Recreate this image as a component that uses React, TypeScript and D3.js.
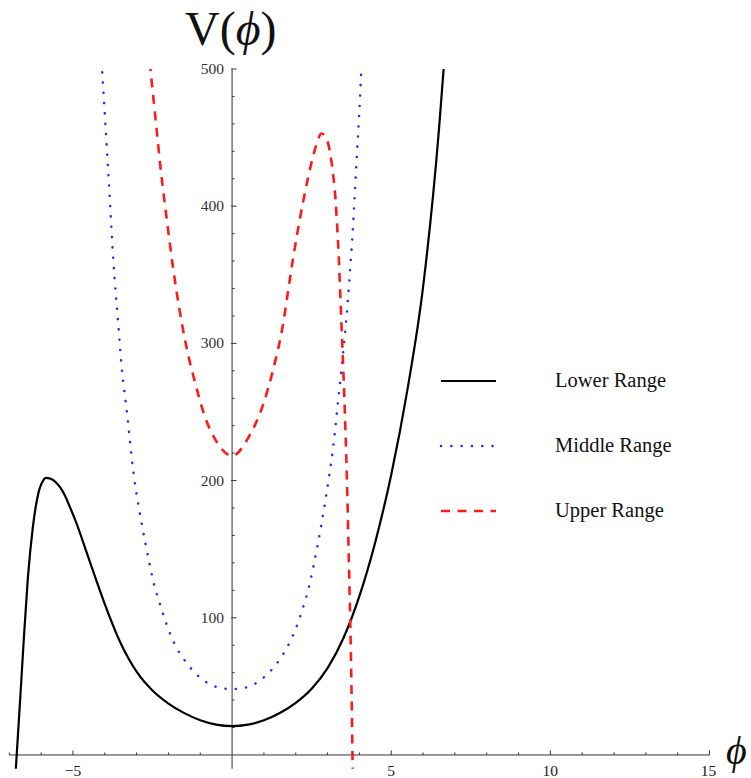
import React from "react";
import * as d3 from "d3";

type P = [number, number];

const lowerRange: P[] = [
  [-6.8, -12], [-6.66, 40], [-6.54, 86], [-6.42, 128], [-6.26, 166], [-6.05, 194],
  [-5.95, 199.5], [-5.85, 202], [-5.7, 201.3], [-5.55, 199], [-5.4, 195],
  [-5.25, 189], [-5.1, 181], [-4.9, 169.5], [-4.7, 156.5], [-4.5, 143], [-4.0, 110],
  [-3.5, 81.5], [-3.0, 60.8], [-2.5, 47], [-2.0, 37.5], [-1.5, 30.5], [-1.0, 25.3],
  [-0.5, 22.1], [0, 21], [0.5, 22.1], [1.0, 25.3], [1.5, 30.6], [2.0, 38], [2.5, 48.3],
  [3.0, 63.3], [3.5, 85.3], [4.0, 115.8], [4.5, 155.3], [5.0, 204.3], [5.5, 265],
  [6.0, 341], [6.5, 456], [6.65, 501], [6.7, 518],
];

const middleRange: P[] = [
  [-4.1, 505], [-3.98, 460], [-3.85, 409], [-3.73, 360], [-3.59, 318], [-3.47, 283],
  [-3.31, 251], [-3.1, 206], [-2.85, 170], [-2.59, 139], [-2.46, 125], [-2.28, 111],
  [-2.07, 96], [-1.83, 82], [-1.49, 69], [-1.06, 57.6], [-0.52, 49.8], [0, 48],
  [0.45, 49.3], [1.0, 56.6], [1.44, 67.8], [1.78, 80.7], [2.04, 94.5], [2.25, 109],
  [2.42, 123], [2.56, 138], [2.82, 170], [3.06, 205], [3.19, 227], [3.33, 258],
  [3.47, 289], [3.59, 318], [3.69, 348], [3.78, 378], [3.85, 407], [3.92, 437],
  [3.99, 466], [4.07, 505],
];

const upperRange: P[] = [
  [-2.59, 505], [-2.38, 458], [-2.23, 424], [-2.05, 390], [-1.86, 356], [-1.67, 327],
  [-1.44, 298], [-1.18, 273], [-0.86, 247], [-0.45, 227], [0, 218], [0.55, 233],
  [0.97, 255], [1.28, 280], [1.6, 314], [1.81, 346], [1.91, 361], [2.07, 383],
  [2.23, 403], [2.38, 420], [2.54, 436], [2.68, 447], [2.8, 453], [2.95, 450],
  [3.07, 440], [3.17, 424], [3.25, 405], [3.3, 386], [3.35, 364], [3.38, 347],
  [3.44, 312], [3.5, 277], [3.56, 238], [3.62, 190], [3.67, 140], [3.71, 100],
  [3.75, 50], [3.79, -12],
];

const xMajorTicks = [-5, 5, 10, 15];
const xMinorTicks = d3.range(-7, 16, 1).filter((v) => v !== 0 && v % 5 !== 0);
const yMajorTicks = [100, 200, 300, 400, 500];
const yMinorTicks = d3.range(20, 500, 20).filter((v) => v % 100 !== 0);

const legendItems = [
  { label: "Lower Range", key: "lower" },
  { label: "Middle Range", key: "middle" },
  { label: "Upper Range", key: "upper" },
];

const styles: Record<string, { stroke: string; width: number; dash?: string; cap?: string }> = {
  lower: { stroke: "#000", width: 2.2 },
  middle: { stroke: "#2626ff", width: 2.5, dash: "0.1 10.2", cap: "round" },
  upper: { stroke: "#ff1a1a", width: 2.6, dash: "9 7.5" },
};

export default function App() {
  const W = 751, H = 778;
  const x = d3.scaleLinear().domain([-7, 15]).range([9.3, 709.5]);
  const y = d3.scaleLinear().domain([-10, 500]).range([768.7, 69]);
  const line = d3
    .line<P>()
    .x((d) => x(d[0]))
    .y((d) => y(d[1]))
    .curve(d3.curveMonotoneX);
  const font = "'Liberation Serif', 'Times New Roman', serif";
  const series: [string, P[]][] = [
    ["lower", lowerRange],
    ["middle", middleRange],
    ["upper", upperRange],
  ];
  const x0 = x(0), y0 = y(0);
  return (
    <svg width={W} height={H} style={{ position: "absolute", left: 0, top: 0, background: "#fff" }}>
      <defs>
        <clipPath id="plot">
          <rect x={x(-7)} y={y(500)} width={x(15) - x(-7)} height={y(-10) - y(500)} />
        </clipPath>
      </defs>
      {/* axes */}
      <line x1={x(-7)} x2={x(15)} y1={y0} y2={y0} stroke="#333" strokeWidth={1} />
      <line x1={x0} x2={x0} y1={y(500)} y2={y(-10)} stroke="#333" strokeWidth={1} />
      {xMinorTicks.map((t) => (
        <line key={"xm" + t} x1={x(t)} x2={x(t)} y1={y0} y2={y0 - 2.5} stroke="#333" />
      ))}
      {xMajorTicks.map((t) => (
        <line key={"xM" + t} x1={x(t)} x2={x(t)} y1={y0} y2={y0 - 4.5} stroke="#333" />
      ))}
      {yMinorTicks.map((t) => (
        <line key={"ym" + t} x1={x0} x2={x0 + 2.5} y1={y(t)} y2={y(t)} stroke="#333" />
      ))}
      {yMajorTicks.map((t) => (
        <line key={"yM" + t} x1={x0 - 1} x2={x0 + 4.5} y1={y(t)} y2={y(t)} stroke="#333" />
      ))}
      {xMajorTicks.map((t) => (
        <text key={"xl" + t} x={x(t) - (t === 15 ? 1 : 0)} y={775.5} textAnchor="middle" fontFamily={font} fontSize={15.5} fill="#222">
          {t < 0 ? "\u2212" + Math.abs(t) : String(t)}
        </text>
      ))}
      {yMajorTicks.map((t) => (
        <text key={"yl" + t} x={224} y={y(t) + 5} textAnchor="end" fontFamily={font} fontSize={15.5} fill="#333">
          {t}
        </text>
      ))}
      {/* curves */}
      <g clipPath="url(#plot)">
        {series.map(([k, data]) => (
          <path
            key={k}
            d={line(data) || ""}
            fill="none"
            stroke={styles[k].stroke}
            strokeWidth={styles[k].width}
            strokeDasharray={styles[k].dash}
            strokeLinecap={(styles[k].cap as any) || "butt"}
          />
        ))}
      </g>
      {/* legend */}
      {legendItems.map((it, i) => {
        const ly = 381 + i * 65;
        const s = styles[it.key];
        return (
          <g key={it.key}>
            <line
              x1={441}
              x2={496}
              y1={ly}
              y2={ly}
              stroke={s.stroke}
              strokeWidth={s.width}
              strokeDasharray={s.dash}
              strokeLinecap={(s.cap as any) || "butt"}
            />
            <text x={555} y={ly + 6} fontFamily={font} fontSize={20.5} fill="#111">
              {it.label}
            </text>
          </g>
        );
      })}
      {/* titles */}
      <text x={185} y={45} fontFamily={font} fontSize={48} fill="#111">
        V(<tspan fontStyle="italic">{"\u03D5"}</tspan>)
      </text>
      <text x={726} y={764} fontFamily={font} fontSize={40} fontStyle="italic" fill="#111">
        {"\u03D5"}
      </text>
    </svg>
  );
}
